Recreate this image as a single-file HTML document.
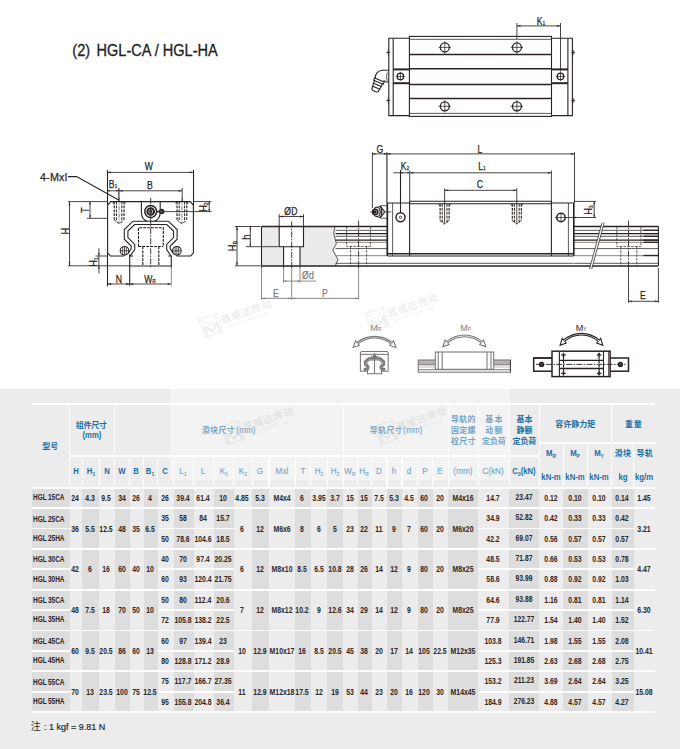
<!DOCTYPE html>
<html lang="zh"><head><meta charset="utf-8"><title>HGL-CA / HGL-HA</title>
<style>
html,body{margin:0;padding:0}
body{width:680px;height:749px;position:relative;overflow:hidden;background:#fff;font-family:"Liberation Sans",sans-serif}
.b{position:absolute}
svg{position:absolute;left:0;top:0}
.t{position:absolute;white-space:nowrap;font-weight:bold;font-size:8.4px;line-height:10px;color:#2e2725;transform:translate(-50%,-50%) scaleX(.82)}
.t.l{transform:translate(0,-50%) scaleX(.775);transform-origin:0 50%}
.t.l i{display:inline-block;width:1.6px}
.t.s{font-size:8.2px;transform:translate(-50%,-50%) scaleX(.82)}
.t.h{color:#1b6ea7;font-size:8.6px;transform:translate(-50%,-50%) scaleX(.9)}
.t.hl{font-weight:normal;font-size:9px;-webkit-text-stroke:.15px #1b6ea7;letter-spacing:.1px}
.t sub{font-size:5.4px;vertical-align:-1.6px;line-height:0}
.zh{position:absolute;white-space:nowrap;color:transparent;line-height:1;}
.note{position:absolute;white-space:pre;font-size:9px;line-height:10px;color:#2a2a2a;-webkit-text-stroke:.2px #2a2a2a;transform:translate(0,-50%)}
.lb{position:absolute;white-space:nowrap;line-height:1;color:#2b2523;letter-spacing:.2px;-webkit-text-stroke:.25px #2b2523}
.lb sub{font-size:.5em;vertical-align:-.12em;line-height:0}
.lb.gr{color:#2b2523;-webkit-text-stroke:0;letter-spacing:0}
.lb.gr sub{font-size:.55em;vertical-align:-.12em}
.lb.ttl{color:#222;letter-spacing:0;-webkit-text-stroke:.3px #222}
.ov{position:absolute;left:170px;top:268px;width:340px;height:212px;background:rgba(255,255,255,.38)}
.m,.n,.ng,.k,.kk,.c13,.d,.d2,.dg,.c,.c2,.g,.gk,.g2{fill:none;stroke:#2a2321}
svg .m{stroke-width:1.1}
svg .n{stroke-width:.75}
svg .ng{stroke-width:1;stroke:#8a8583}
svg .k{stroke-width:1.5}
svg .c13{stroke-width:1.3}
svg .kk{stroke-width:2}
svg .th{fill:none;stroke:#2a2321;stroke-width:.85}
svg .a{fill:#2f2826;stroke:none}
svg .d{stroke:#1c1614;stroke-width:1.1;stroke-dasharray:2.8 1.1}
svg .d2{stroke:#1c1614;stroke-width:.95;stroke-dasharray:2.8 1.1}
svg .dg{stroke:#3a3432;stroke-width:.8;stroke-dasharray:2.6 1.2}
svg .c{stroke-width:.9;stroke-dasharray:6 1.3 1.5 1.3}
svg .c2{stroke-width:.6;stroke-dasharray:4 1.2 1.2 1.2}
svg .g{stroke:#2a2321;stroke-width:1.05}
svg .gk{stroke:#2f2826;stroke-width:2.2}
svg .g2{stroke:#2f2826;stroke-width:.5}
svg .gf{fill:#2f2826;stroke:none}
svg .cj{font-family:"Liberation Sans","Noto Sans CJK SC",sans-serif;font-weight:bold;font-size:8px;fill:#1b6ea7}
svg .wm{font-family:"Liberation Sans","Noto Sans CJK SC",sans-serif;font-weight:bold;font-size:10px;fill:#a8a8a8}
</style></head><body>
<div class="b" style="left:0px;top:389px;width:680px;height:360px;background:#ececec"></div>
<div class="b" style="left:32px;top:487.7px;width:37.5px;height:224.51px;background:#dcdddc"></div>
<div class="b" style="left:82.4px;top:487.7px;width:16.8px;height:224.51px;background:#dcdddc"></div>
<div class="b" style="left:114.6px;top:487.7px;width:15px;height:224.51px;background:#dcdddc"></div>
<div class="b" style="left:143.8px;top:487.7px;width:13.8px;height:224.51px;background:#dcdddc"></div>
<div class="b" style="left:173.8px;top:487.7px;width:19.8px;height:224.51px;background:#dcdddc"></div>
<div class="b" style="left:213.8px;top:487.7px;width:20px;height:224.51px;background:#dcdddc"></div>
<div class="b" style="left:252.1px;top:487.7px;width:16.9px;height:224.51px;background:#dcdddc"></div>
<div class="b" style="left:295.2px;top:487.7px;width:15.6px;height:224.51px;background:#dcdddc"></div>
<div class="b" style="left:327.4px;top:487.7px;width:15.9px;height:224.51px;background:#dcdddc"></div>
<div class="b" style="left:357.5px;top:487.7px;width:14px;height:224.51px;background:#dcdddc"></div>
<div class="b" style="left:387px;top:487.7px;width:15px;height:224.51px;background:#dcdddc"></div>
<div class="b" style="left:417.5px;top:487.7px;width:15px;height:224.51px;background:#dcdddc"></div>
<div class="b" style="left:448.4px;top:487.7px;width:29.8px;height:224.51px;background:#dcdddc"></div>
<div class="b" style="left:509.3px;top:487.7px;width:29.8px;height:224.51px;background:#dcdddc"></div>
<div class="b" style="left:563.3px;top:487.7px;width:24.4px;height:224.51px;background:#dcdddc"></div>
<div class="b" style="left:611.8px;top:487.7px;width:22.1px;height:224.51px;background:#dcdddc"></div>
<div class="b" style="left:32px;top:403.1px;width:623px;height:1.6px;background:#fdfdfd"></div>
<div class="b" style="left:69.5px;top:455.2px;width:469.6px;height:1.4px;background:#fdfdfd"></div>
<div class="b" style="left:539.1px;top:442.3px;width:115.9px;height:1.4px;background:#fdfdfd"></div>
<div class="b" style="left:32px;top:486.8px;width:623px;height:1.8px;background:#fdfdfd"></div>
<div class="b" style="left:68.97px;top:403.9px;width:1.05px;height:83.8px;background:#fdfdfd"></div>
<div class="b" style="left:114.07px;top:403.9px;width:1.05px;height:83.8px;background:#fdfdfd"></div>
<div class="b" style="left:342.78px;top:403.9px;width:1.05px;height:83.8px;background:#fdfdfd"></div>
<div class="b" style="left:447.88px;top:403.9px;width:1.05px;height:83.8px;background:#fdfdfd"></div>
<div class="b" style="left:477.68px;top:403.9px;width:1.05px;height:83.8px;background:#fdfdfd"></div>
<div class="b" style="left:508.78px;top:403.9px;width:1.05px;height:83.8px;background:#fdfdfd"></div>
<div class="b" style="left:538.58px;top:403.9px;width:1.05px;height:83.8px;background:#fdfdfd"></div>
<div class="b" style="left:611.27px;top:403.9px;width:1.05px;height:83.8px;background:#fdfdfd"></div>
<div class="b" style="left:81.88px;top:455.9px;width:1.05px;height:31.8px;background:#fdfdfd"></div>
<div class="b" style="left:98.67px;top:455.9px;width:1.05px;height:31.8px;background:#fdfdfd"></div>
<div class="b" style="left:129.07px;top:455.9px;width:1.05px;height:31.8px;background:#fdfdfd"></div>
<div class="b" style="left:143.28px;top:455.9px;width:1.05px;height:31.8px;background:#fdfdfd"></div>
<div class="b" style="left:157.07px;top:455.9px;width:1.05px;height:31.8px;background:#fdfdfd"></div>
<div class="b" style="left:173.28px;top:455.9px;width:1.05px;height:31.8px;background:#fdfdfd"></div>
<div class="b" style="left:193.07px;top:455.9px;width:1.05px;height:31.8px;background:#fdfdfd"></div>
<div class="b" style="left:213.28px;top:455.9px;width:1.05px;height:31.8px;background:#fdfdfd"></div>
<div class="b" style="left:233.28px;top:455.9px;width:1.05px;height:31.8px;background:#fdfdfd"></div>
<div class="b" style="left:251.57px;top:455.9px;width:1.05px;height:31.8px;background:#fdfdfd"></div>
<div class="b" style="left:268.48px;top:455.9px;width:1.05px;height:31.8px;background:#fdfdfd"></div>
<div class="b" style="left:294.68px;top:455.9px;width:1.05px;height:31.8px;background:#fdfdfd"></div>
<div class="b" style="left:310.28px;top:455.9px;width:1.05px;height:31.8px;background:#fdfdfd"></div>
<div class="b" style="left:326.88px;top:455.9px;width:1.05px;height:31.8px;background:#fdfdfd"></div>
<div class="b" style="left:356.98px;top:455.9px;width:1.05px;height:31.8px;background:#fdfdfd"></div>
<div class="b" style="left:370.98px;top:455.9px;width:1.05px;height:31.8px;background:#fdfdfd"></div>
<div class="b" style="left:386.48px;top:455.9px;width:1.05px;height:31.8px;background:#fdfdfd"></div>
<div class="b" style="left:401.48px;top:455.9px;width:1.05px;height:31.8px;background:#fdfdfd"></div>
<div class="b" style="left:416.98px;top:455.9px;width:1.05px;height:31.8px;background:#fdfdfd"></div>
<div class="b" style="left:431.98px;top:455.9px;width:1.05px;height:31.8px;background:#fdfdfd"></div>
<div class="b" style="left:562.77px;top:443px;width:1.05px;height:44.7px;background:#fdfdfd"></div>
<div class="b" style="left:587.18px;top:443px;width:1.05px;height:44.7px;background:#fdfdfd"></div>
<div class="b" style="left:633.38px;top:443px;width:1.05px;height:44.7px;background:#fdfdfd"></div>
<div class="b" style="left:32px;top:507.21px;width:623px;height:1.8px;background:#fdfdfd"></div>
<div class="b" style="left:32px;top:548.03px;width:623px;height:1.8px;background:#fdfdfd"></div>
<div class="b" style="left:32px;top:527.62px;width:37.5px;height:1.8px;background:#fdfdfd"></div>
<div class="b" style="left:157.6px;top:527.62px;width:76.2px;height:1.8px;background:#fdfdfd"></div>
<div class="b" style="left:478.2px;top:527.62px;width:155.7px;height:1.8px;background:#fdfdfd"></div>
<div class="b" style="left:32px;top:588.85px;width:623px;height:1.8px;background:#fdfdfd"></div>
<div class="b" style="left:32px;top:568.44px;width:37.5px;height:1.8px;background:#fdfdfd"></div>
<div class="b" style="left:157.6px;top:568.44px;width:76.2px;height:1.8px;background:#fdfdfd"></div>
<div class="b" style="left:478.2px;top:568.44px;width:155.7px;height:1.8px;background:#fdfdfd"></div>
<div class="b" style="left:32px;top:629.67px;width:623px;height:1.8px;background:#fdfdfd"></div>
<div class="b" style="left:32px;top:609.26px;width:37.5px;height:1.8px;background:#fdfdfd"></div>
<div class="b" style="left:157.6px;top:609.26px;width:76.2px;height:1.8px;background:#fdfdfd"></div>
<div class="b" style="left:478.2px;top:609.26px;width:155.7px;height:1.8px;background:#fdfdfd"></div>
<div class="b" style="left:32px;top:670.49px;width:623px;height:1.8px;background:#fdfdfd"></div>
<div class="b" style="left:32px;top:650.08px;width:37.5px;height:1.8px;background:#fdfdfd"></div>
<div class="b" style="left:157.6px;top:650.08px;width:76.2px;height:1.8px;background:#fdfdfd"></div>
<div class="b" style="left:478.2px;top:650.08px;width:155.7px;height:1.8px;background:#fdfdfd"></div>
<div class="b" style="left:32px;top:711.31px;width:623px;height:1.8px;background:#fdfdfd"></div>
<div class="b" style="left:32px;top:690.9px;width:37.5px;height:1.8px;background:#fdfdfd"></div>
<div class="b" style="left:157.6px;top:690.9px;width:76.2px;height:1.8px;background:#fdfdfd"></div>
<div class="b" style="left:478.2px;top:690.9px;width:155.7px;height:1.8px;background:#fdfdfd"></div>
<span class="t h" style="left:75.65px;top:470.8px;">H</span>
<span class="t h" style="left:90.5px;top:470.8px;">H<sub>1</sub></span>
<span class="t h" style="left:106.6px;top:470.8px;">N</span>
<span class="t h" style="left:121.8px;top:470.8px;">W</span>
<span class="t h" style="left:136.4px;top:470.8px;">B</span>
<span class="t h" style="left:150.4px;top:470.8px;">B<sub>1</sub></span>
<span class="t h" style="left:165.4px;top:470.8px;">C</span>
<span class="t h hl" style="left:183.4px;top:470.8px;">L<sub>1</sub></span>
<span class="t h hl" style="left:203.4px;top:470.8px;">L</span>
<span class="t h hl" style="left:223.5px;top:470.8px;">K<sub>1</sub></span>
<span class="t h hl" style="left:242.65px;top:470.8px;">K<sub>2</sub></span>
<span class="t h hl" style="left:260.25px;top:470.8px;">G</span>
<span class="t h hl" style="left:281.8px;top:470.8px;">Mxl</span>
<span class="t h hl" style="left:302.7px;top:470.8px;">T</span>
<span class="t h hl" style="left:318.8px;top:470.8px;">H<sub>2</sub></span>
<span class="t h hl" style="left:335.05px;top:470.8px;">H<sub>3</sub></span>
<span class="t h hl" style="left:350.1px;top:470.8px;">W<sub>R</sub></span>
<span class="t h hl" style="left:364.2px;top:470.8px;">H<sub>R</sub></span>
<span class="t h hl" style="left:378.95px;top:470.8px;">D</span>
<span class="t h hl" style="left:394.2px;top:470.8px;">h</span>
<span class="t h hl" style="left:409.45px;top:470.8px;">d</span>
<span class="t h hl" style="left:424.7px;top:470.8px;">P</span>
<span class="t h hl" style="left:440.15px;top:470.8px;">E</span>
<span class="t h hl" style="left:463px;top:470.8px;">(mm)</span>
<span class="t h hl" style="left:493.45px;top:470.8px;">C(kN)</span>
<span class="t h" style="left:523.9px;top:470.8px;">C<sub>0</sub>(kN)</span>
<span class="t h" style="left:91.7px;top:435.3px;">(mm)</span>
<span class="t h" style="left:550.9px;top:453.3px;">M<sub>R</sub></span>
<span class="t h" style="left:550.9px;top:477.2px;">kN-m</span>
<span class="t h" style="left:575.2px;top:453.3px;">M<sub>P</sub></span>
<span class="t h" style="left:575.2px;top:477.2px;">kN-m</span>
<span class="t h" style="left:599.45px;top:453.3px;">M<sub>Y</sub></span>
<span class="t h" style="left:599.45px;top:477.2px;">kN-m</span>
<span class="t h" style="left:622.55px;top:477.2px;">kg</span>
<span class="t h" style="left:644.15px;top:477.2px;">kg/m</span>
<span class="t h hl" style="left:245.9px;top:430.3px;">(mm)</span>
<span class="t h hl" style="left:413.3px;top:430.3px;">(mm)</span>
<span class="t l d" style="left:32.8px;top:497px;">HGL<i></i>15CA</span>
<span class="t d" style="left:75.35px;top:497.7px;">24</span>
<span class="t d" style="left:90.2px;top:497.7px;">4.3</span>
<span class="t d" style="left:106.3px;top:497.7px;">9.5</span>
<span class="t d" style="left:121.5px;top:497.7px;">34</span>
<span class="t d" style="left:136.1px;top:497.7px;">26</span>
<span class="t d" style="left:150.1px;top:497.7px;">4</span>
<span class="t d" style="left:165.1px;top:497.7px;">26</span>
<span class="t d" style="left:183.1px;top:497.7px;">39.4</span>
<span class="t d" style="left:203.1px;top:497.7px;">61.4</span>
<span class="t d" style="left:223.2px;top:497.7px;">10</span>
<span class="t d" style="left:493.15px;top:497.7px;">14.7</span>
<span class="t d s" style="left:523.6px;top:497.7px;">23.47</span>
<span class="t d" style="left:550.6px;top:497.7px;">0.12</span>
<span class="t d" style="left:574.9px;top:497.7px;">0.10</span>
<span class="t d" style="left:599.15px;top:497.7px;">0.10</span>
<span class="t d" style="left:622.25px;top:497.7px;">0.14</span>
<span class="t d" style="left:242.35px;top:497.7px;">4.85</span>
<span class="t d" style="left:259.95px;top:497.7px;">5.3</span>
<span class="t d" style="left:281.5px;top:497.7px;">M4x4</span>
<span class="t d" style="left:302.4px;top:497.7px;">6</span>
<span class="t d" style="left:318.5px;top:497.7px;">3.95</span>
<span class="t d" style="left:334.75px;top:497.7px;">3.7</span>
<span class="t d" style="left:349.8px;top:497.7px;">15</span>
<span class="t d" style="left:363.9px;top:497.7px;">15</span>
<span class="t d" style="left:378.65px;top:497.7px;">7.5</span>
<span class="t d" style="left:393.9px;top:497.7px;">5.3</span>
<span class="t d" style="left:409.15px;top:497.7px;">4.5</span>
<span class="t d" style="left:424.4px;top:497.7px;">60</span>
<span class="t d" style="left:439.85px;top:497.7px;">20</span>
<span class="t d" style="left:462.7px;top:497.7px;">M4x16</span>
<span class="t d" style="left:643.85px;top:497.7px;">1.45</span>
<span class="t l d" style="left:32.8px;top:518.52px;">HGL<i></i>25CA</span>
<span class="t l d" style="left:32.8px;top:537.82px;">HGL<i></i>25HA</span>
<span class="t d" style="left:75.35px;top:529.42px;">36</span>
<span class="t d" style="left:90.2px;top:529.42px;">5.5</span>
<span class="t d" style="left:106.3px;top:529.42px;">12.5</span>
<span class="t d" style="left:121.5px;top:529.42px;">48</span>
<span class="t d" style="left:136.1px;top:529.42px;">35</span>
<span class="t d" style="left:150.1px;top:529.42px;">6.5</span>
<span class="t d" style="left:165.1px;top:518.12px;">35</span>
<span class="t d" style="left:183.1px;top:518.12px;">58</span>
<span class="t d" style="left:203.1px;top:518.12px;">84</span>
<span class="t d" style="left:223.2px;top:518.12px;">15.7</span>
<span class="t d" style="left:493.15px;top:518.12px;">34.9</span>
<span class="t d s" style="left:523.6px;top:518.12px;">52.82</span>
<span class="t d" style="left:550.6px;top:518.12px;">0.42</span>
<span class="t d" style="left:574.9px;top:518.12px;">0.33</span>
<span class="t d" style="left:599.15px;top:518.12px;">0.33</span>
<span class="t d" style="left:622.25px;top:518.12px;">0.42</span>
<span class="t d" style="left:165.1px;top:538.52px;">50</span>
<span class="t d" style="left:183.1px;top:538.52px;">78.6</span>
<span class="t d" style="left:203.1px;top:538.52px;">104.6</span>
<span class="t d" style="left:223.2px;top:538.52px;">18.5</span>
<span class="t d" style="left:493.15px;top:538.52px;">42.2</span>
<span class="t d s" style="left:523.6px;top:538.52px;">69.07</span>
<span class="t d" style="left:550.6px;top:538.52px;">0.56</span>
<span class="t d" style="left:574.9px;top:538.52px;">0.57</span>
<span class="t d" style="left:599.15px;top:538.52px;">0.57</span>
<span class="t d" style="left:622.25px;top:538.52px;">0.57</span>
<span class="t d" style="left:242.35px;top:529.42px;">6</span>
<span class="t d" style="left:259.95px;top:529.42px;">12</span>
<span class="t d" style="left:281.5px;top:529.42px;">M6x6</span>
<span class="t d" style="left:302.4px;top:529.42px;">8</span>
<span class="t d" style="left:318.5px;top:529.42px;">6</span>
<span class="t d" style="left:334.75px;top:529.42px;">5</span>
<span class="t d" style="left:349.8px;top:529.42px;">23</span>
<span class="t d" style="left:363.9px;top:529.42px;">22</span>
<span class="t d" style="left:378.65px;top:529.42px;">11</span>
<span class="t d" style="left:393.9px;top:529.42px;">9</span>
<span class="t d" style="left:409.15px;top:529.42px;">7</span>
<span class="t d" style="left:424.4px;top:529.42px;">60</span>
<span class="t d" style="left:439.85px;top:529.42px;">20</span>
<span class="t d" style="left:462.7px;top:529.42px;">M6x20</span>
<span class="t d" style="left:643.85px;top:529.42px;">3.21</span>
<span class="t l d" style="left:32.8px;top:559.34px;">HGL<i></i>30CA</span>
<span class="t l d" style="left:32.8px;top:578.65px;">HGL<i></i>30HA</span>
<span class="t d" style="left:75.35px;top:569.14px;">42</span>
<span class="t d" style="left:90.2px;top:569.14px;">6</span>
<span class="t d" style="left:106.3px;top:569.14px;">16</span>
<span class="t d" style="left:121.5px;top:569.14px;">60</span>
<span class="t d" style="left:136.1px;top:569.14px;">40</span>
<span class="t d" style="left:150.1px;top:569.14px;">10</span>
<span class="t d" style="left:165.1px;top:558.93px;">40</span>
<span class="t d" style="left:183.1px;top:558.93px;">70</span>
<span class="t d" style="left:203.1px;top:558.93px;">97.4</span>
<span class="t d" style="left:223.2px;top:558.93px;">20.25</span>
<span class="t d" style="left:493.15px;top:558.93px;">48.5</span>
<span class="t d s" style="left:523.6px;top:558.93px;">71.87</span>
<span class="t d" style="left:550.6px;top:558.93px;">0.66</span>
<span class="t d" style="left:574.9px;top:558.93px;">0.53</span>
<span class="t d" style="left:599.15px;top:558.93px;">0.53</span>
<span class="t d" style="left:622.25px;top:558.93px;">0.78</span>
<span class="t d" style="left:165.1px;top:579.35px;">60</span>
<span class="t d" style="left:183.1px;top:579.35px;">93</span>
<span class="t d" style="left:203.1px;top:579.35px;">120.4</span>
<span class="t d" style="left:223.2px;top:579.35px;">21.75</span>
<span class="t d" style="left:493.15px;top:579.35px;">58.6</span>
<span class="t d s" style="left:523.6px;top:579.35px;">93.99</span>
<span class="t d" style="left:550.6px;top:579.35px;">0.88</span>
<span class="t d" style="left:574.9px;top:579.35px;">0.92</span>
<span class="t d" style="left:599.15px;top:579.35px;">0.92</span>
<span class="t d" style="left:622.25px;top:579.35px;">1.03</span>
<span class="t d" style="left:242.35px;top:569.14px;">6</span>
<span class="t d" style="left:259.95px;top:569.14px;">12</span>
<span class="t d" style="left:281.5px;top:569.14px;">M8x10</span>
<span class="t d" style="left:302.4px;top:569.14px;">8.5</span>
<span class="t d" style="left:318.5px;top:569.14px;">6.5</span>
<span class="t d" style="left:334.75px;top:569.14px;">10.8</span>
<span class="t d" style="left:349.8px;top:569.14px;">28</span>
<span class="t d" style="left:363.9px;top:569.14px;">26</span>
<span class="t d" style="left:378.65px;top:569.14px;">14</span>
<span class="t d" style="left:393.9px;top:569.14px;">12</span>
<span class="t d" style="left:409.15px;top:569.14px;">9</span>
<span class="t d" style="left:424.4px;top:569.14px;">80</span>
<span class="t d" style="left:439.85px;top:569.14px;">20</span>
<span class="t d" style="left:462.7px;top:569.14px;">M8x25</span>
<span class="t d" style="left:643.85px;top:569.14px;">4.47</span>
<span class="t l d" style="left:32.8px;top:600.15px;">HGL<i></i>35CA</span>
<span class="t l d" style="left:32.8px;top:619.47px;">HGL<i></i>35HA</span>
<span class="t d" style="left:75.35px;top:609.96px;">48</span>
<span class="t d" style="left:90.2px;top:609.96px;">7.5</span>
<span class="t d" style="left:106.3px;top:609.96px;">18</span>
<span class="t d" style="left:121.5px;top:609.96px;">70</span>
<span class="t d" style="left:136.1px;top:609.96px;">50</span>
<span class="t d" style="left:150.1px;top:609.96px;">10</span>
<span class="t d" style="left:165.1px;top:599.75px;">50</span>
<span class="t d" style="left:183.1px;top:599.75px;">80</span>
<span class="t d" style="left:203.1px;top:599.75px;">112.4</span>
<span class="t d" style="left:223.2px;top:599.75px;">20.6</span>
<span class="t d" style="left:493.15px;top:599.75px;">64.6</span>
<span class="t d s" style="left:523.6px;top:599.75px;">93.88</span>
<span class="t d" style="left:550.6px;top:599.75px;">1.16</span>
<span class="t d" style="left:574.9px;top:599.75px;">0.81</span>
<span class="t d" style="left:599.15px;top:599.75px;">0.81</span>
<span class="t d" style="left:622.25px;top:599.75px;">1.14</span>
<span class="t d" style="left:165.1px;top:620.16px;">72</span>
<span class="t d" style="left:183.1px;top:620.16px;">105.8</span>
<span class="t d" style="left:203.1px;top:620.16px;">138.2</span>
<span class="t d" style="left:223.2px;top:620.16px;">22.5</span>
<span class="t d" style="left:493.15px;top:620.16px;">77.9</span>
<span class="t d s" style="left:523.6px;top:620.16px;">122.77</span>
<span class="t d" style="left:550.6px;top:620.16px;">1.54</span>
<span class="t d" style="left:574.9px;top:620.16px;">1.40</span>
<span class="t d" style="left:599.15px;top:620.16px;">1.40</span>
<span class="t d" style="left:622.25px;top:620.16px;">1.52</span>
<span class="t d" style="left:242.35px;top:609.96px;">7</span>
<span class="t d" style="left:259.95px;top:609.96px;">12</span>
<span class="t d" style="left:281.5px;top:609.96px;">M8x12</span>
<span class="t d" style="left:302.4px;top:609.96px;">10.2</span>
<span class="t d" style="left:318.5px;top:609.96px;">9</span>
<span class="t d" style="left:334.75px;top:609.96px;">12.6</span>
<span class="t d" style="left:349.8px;top:609.96px;">34</span>
<span class="t d" style="left:363.9px;top:609.96px;">29</span>
<span class="t d" style="left:378.65px;top:609.96px;">14</span>
<span class="t d" style="left:393.9px;top:609.96px;">12</span>
<span class="t d" style="left:409.15px;top:609.96px;">9</span>
<span class="t d" style="left:424.4px;top:609.96px;">80</span>
<span class="t d" style="left:439.85px;top:609.96px;">20</span>
<span class="t d" style="left:462.7px;top:609.96px;">M8x25</span>
<span class="t d" style="left:643.85px;top:609.96px;">6.30</span>
<span class="t l d" style="left:32.8px;top:640.98px;">HGL<i></i>45CA</span>
<span class="t l d" style="left:32.8px;top:660.28px;">HGL<i></i>45HA</span>
<span class="t d" style="left:75.35px;top:650.78px;">60</span>
<span class="t d" style="left:90.2px;top:650.78px;">9.5</span>
<span class="t d" style="left:106.3px;top:650.78px;">20.5</span>
<span class="t d" style="left:121.5px;top:650.78px;">86</span>
<span class="t d" style="left:136.1px;top:650.78px;">60</span>
<span class="t d" style="left:150.1px;top:650.78px;">13</span>
<span class="t d" style="left:165.1px;top:640.57px;">60</span>
<span class="t d" style="left:183.1px;top:640.57px;">97</span>
<span class="t d" style="left:203.1px;top:640.57px;">139.4</span>
<span class="t d" style="left:223.2px;top:640.57px;">23</span>
<span class="t d" style="left:493.15px;top:640.57px;">103.8</span>
<span class="t d s" style="left:523.6px;top:640.57px;">146.71</span>
<span class="t d" style="left:550.6px;top:640.57px;">1.98</span>
<span class="t d" style="left:574.9px;top:640.57px;">1.55</span>
<span class="t d" style="left:599.15px;top:640.57px;">1.55</span>
<span class="t d" style="left:622.25px;top:640.57px;">2.08</span>
<span class="t d" style="left:165.1px;top:660.98px;">80</span>
<span class="t d" style="left:183.1px;top:660.98px;">128.8</span>
<span class="t d" style="left:203.1px;top:660.98px;">171.2</span>
<span class="t d" style="left:223.2px;top:660.98px;">28.9</span>
<span class="t d" style="left:493.15px;top:660.98px;">125.3</span>
<span class="t d s" style="left:523.6px;top:660.98px;">191.85</span>
<span class="t d" style="left:550.6px;top:660.98px;">2.63</span>
<span class="t d" style="left:574.9px;top:660.98px;">2.68</span>
<span class="t d" style="left:599.15px;top:660.98px;">2.68</span>
<span class="t d" style="left:622.25px;top:660.98px;">2.75</span>
<span class="t d" style="left:242.35px;top:650.78px;">10</span>
<span class="t d" style="left:259.95px;top:650.78px;">12.9</span>
<span class="t d" style="left:281.5px;top:650.78px;">M10x17</span>
<span class="t d" style="left:302.4px;top:650.78px;">16</span>
<span class="t d" style="left:318.5px;top:650.78px;">8.5</span>
<span class="t d" style="left:334.75px;top:650.78px;">20.5</span>
<span class="t d" style="left:349.8px;top:650.78px;">45</span>
<span class="t d" style="left:363.9px;top:650.78px;">38</span>
<span class="t d" style="left:378.65px;top:650.78px;">20</span>
<span class="t d" style="left:393.9px;top:650.78px;">17</span>
<span class="t d" style="left:409.15px;top:650.78px;">14</span>
<span class="t d" style="left:424.4px;top:650.78px;">105</span>
<span class="t d" style="left:439.85px;top:650.78px;">22.5</span>
<span class="t d" style="left:462.7px;top:650.78px;">M12x35</span>
<span class="t d" style="left:643.85px;top:650.78px;">10.41</span>
<span class="t l d" style="left:32.8px;top:681.8px;">HGL<i></i>55CA</span>
<span class="t l d" style="left:32.8px;top:701.11px;">HGL<i></i>55HA</span>
<span class="t d" style="left:75.35px;top:691.6px;">70</span>
<span class="t d" style="left:90.2px;top:691.6px;">13</span>
<span class="t d" style="left:106.3px;top:691.6px;">23.5</span>
<span class="t d" style="left:121.5px;top:691.6px;">100</span>
<span class="t d" style="left:136.1px;top:691.6px;">75</span>
<span class="t d" style="left:150.1px;top:691.6px;">12.5</span>
<span class="t d" style="left:165.1px;top:681.39px;">75</span>
<span class="t d" style="left:183.1px;top:681.39px;">117.7</span>
<span class="t d" style="left:203.1px;top:681.39px;">166.7</span>
<span class="t d" style="left:223.2px;top:681.39px;">27.35</span>
<span class="t d" style="left:493.15px;top:681.39px;">153.2</span>
<span class="t d s" style="left:523.6px;top:681.39px;">211.23</span>
<span class="t d" style="left:550.6px;top:681.39px;">3.69</span>
<span class="t d" style="left:574.9px;top:681.39px;">2.64</span>
<span class="t d" style="left:599.15px;top:681.39px;">2.64</span>
<span class="t d" style="left:622.25px;top:681.39px;">3.25</span>
<span class="t d" style="left:165.1px;top:701.8px;">95</span>
<span class="t d" style="left:183.1px;top:701.8px;">155.8</span>
<span class="t d" style="left:203.1px;top:701.8px;">204.8</span>
<span class="t d" style="left:223.2px;top:701.8px;">36.4</span>
<span class="t d" style="left:493.15px;top:701.8px;">184.9</span>
<span class="t d s" style="left:523.6px;top:701.8px;">276.23</span>
<span class="t d" style="left:550.6px;top:701.8px;">4.88</span>
<span class="t d" style="left:574.9px;top:701.8px;">4.57</span>
<span class="t d" style="left:599.15px;top:701.8px;">4.57</span>
<span class="t d" style="left:622.25px;top:701.8px;">4.27</span>
<span class="t d" style="left:242.35px;top:691.6px;">11</span>
<span class="t d" style="left:259.95px;top:691.6px;">12.9</span>
<span class="t d" style="left:281.5px;top:691.6px;">M12x18</span>
<span class="t d" style="left:302.4px;top:691.6px;">17.5</span>
<span class="t d" style="left:318.5px;top:691.6px;">12</span>
<span class="t d" style="left:334.75px;top:691.6px;">19</span>
<span class="t d" style="left:349.8px;top:691.6px;">53</span>
<span class="t d" style="left:363.9px;top:691.6px;">44</span>
<span class="t d" style="left:378.65px;top:691.6px;">23</span>
<span class="t d" style="left:393.9px;top:691.6px;">20</span>
<span class="t d" style="left:409.15px;top:691.6px;">16</span>
<span class="t d" style="left:424.4px;top:691.6px;">120</span>
<span class="t d" style="left:439.85px;top:691.6px;">30</span>
<span class="t d" style="left:462.7px;top:691.6px;">M14x45</span>
<span class="t d" style="left:643.85px;top:691.6px;">15.08</span>
<span class="note" style="left:41.4px;top:726.8px"> : 1 kgf = 9.81 N</span>
<svg width="680" height="749" viewBox="0 0 680 749">
<g id="topview">
<path class="m" d="M409.4 38.2L388.8 38.2L388.8 115.6L409.4 115.6"/>
<path class="m" d="M393.2 38.2L393.2 115.6"/>
<path class="m" d="M551.5 38.2L572.4 38.2L572.4 115.6L551.5 115.6"/>
<path class="m" d="M567.9 38.2L567.9 115.6"/>
<rect class="m" x="409.4" y="36.4" width="142.1" height="80"/>
<path class="n" d="M409.4 39.3L551.5 39.3"/>
<path class="n" d="M409.4 113.4L551.5 113.4"/>
<path class="k" d="M409.4 54.6L551.5 54.6"/>
<path class="k" d="M409.4 68.8L551.5 68.8"/>
<path class="k" d="M409.4 84.6L551.5 84.6"/>
<path class="k" d="M409.4 98.5L551.5 98.5"/>
<path class="kk" d="M393.2 69.4L409.4 69.4"/>
<path class="kk" d="M393.2 83.2L409.4 83.2"/>
<path class="kk" d="M551.5 69.4L567.9 69.4"/>
<path class="kk" d="M551.5 83.2L567.9 83.2"/>
<circle class="c13" cx="444.8" cy="47.4" r="4.5"/><path class="n" d="M438.6 47.4L451 47.4"/><path class="n" d="M444.8 41.2L444.8 53.6"/>
<circle class="c13" cx="444.8" cy="106.3" r="4.5"/><path class="n" d="M438.6 106.3L451 106.3"/><path class="n" d="M444.8 100.1L444.8 112.5"/>
<circle class="c13" cx="516.9" cy="47.4" r="4.5"/><path class="n" d="M510.7 47.4L523.1 47.4"/><path class="n" d="M516.9 41.2L516.9 53.6"/>
<circle class="c13" cx="516.9" cy="106.3" r="4.5"/><path class="n" d="M510.7 106.3L523.1 106.3"/><path class="n" d="M516.9 100.1L516.9 112.5"/>
<circle class="c13" cx="400.4" cy="76.4" r="3.2"/><path class="n" d="M395.8 76.4L405 76.4"/><path class="n" d="M400.4 71.8L400.4 81"/>
<circle class="c13" cx="560.5" cy="76.4" r="3.2"/><path class="n" d="M555.9 76.4L565.1 76.4"/><path class="n" d="M560.5 71.8L560.5 81"/>
<path class="n" d="M386.3 52.4L390.3 52.4"/>
<path class="n" d="M388.6 49.2 Q387 52.4 388.6 55.6"/>
<path class="n" d="M572.4 49.2 Q575.6 52.4 572.4 55.6"/>
<path class="n" d="M571 52.4L575 52.4"/>
<path class="n" d="M386.3 100.4L390.3 100.4"/>
<path class="n" d="M388.6 97.2 Q387 100.4 388.6 103.6"/>
<path class="n" d="M572.4 97.2 Q575.6 100.4 572.4 103.6"/>
<path class="n" d="M571 100.4L575 100.4"/>
<path class="m" d="M388.8 70.3L383 70.3Q375.3 70.6 375 78.8"/>
<path class="m" d="M388.8 82L386.2 82L383.6 80.6"/>
<path class="n" d="M387.3 72.5Q385.6 76.5 387.3 81"/>
<path class="m" d="M384.19 82.03L374.61 77.97L373.68 80.18L383.25 84.24Z"/>
<path class="m" d="M382.33 83.85L381.23 86.43L373.5 83.15L374.6 80.57"/>
<path class="m" d="M381.23 86.43L379.75 89.16L372.57 86.12L373.5 83.15"/>
<path class="m" d="M379.75 89.16L377.98 91.78L376.47 92.01L372.79 90.45L371.91 89.2L372.57 86.12"/>
<path class="th" d="M516.9 23L516.9 39"/>
<path class="th" d="M560.5 23L560.5 71.5"/>
<path class="th" d="M516.9 25.9L560.5 25.9"/><path class="a" d="M516.9 25.9L520.5 25L520.5 26.8Z"/><path class="a" d="M560.5 25.9L556.9 26.8L556.9 25Z"/>
</g>
<g id="xsec">
<path class="m" d="M107.6 205.4L110.6 201.6L190.4 201.6L193.4 205.4L193.4 252.8L190.6 256L176.5 256"/>
<path class="m" d="M124.3 256L110.4 256L107.6 252.8L107.6 205.4"/>
<path class="m" d="M129.6 256L129.6 254.4"/>
<path class="m" d="M128.2 253.5L131.2 248.6L131.2 246L124.3 239.2L124.3 229.6L133 221.2L168.4 221.2L177.1 229.6L177.1 239.2L170.2 246L170.2 248.6L173.2 253.5"/>
<path class="m" d="M129.7 266L129.7 256.5L134.7 249.6L134.7 244.4L127.9 237.6L127.9 231L134.6 224.5L166.8 224.5L173.5 231L173.5 237.6L166.7 244.4L166.7 249.6L171.3 256.5L171.3 266Z"/>
<path class="m" d="M129.7 256L133 256"/>
<path class="m" d="M168.4 256L171.3 256"/>
<circle class="m" cx="124.5" cy="250.8" r="4.3" fill="#fff"/>
<path class="n" d="M120.2 250.8L128.8 250.8"/>
<path class="n" d="M124.5 246.5L124.5 255.1"/>
<path class="n" d="M122.7 247L122.7 254.6"/>
<path class="n" d="M126.3 247L126.3 254.6"/>
<circle class="m" cx="176.9" cy="250.8" r="4.3" fill="#fff"/>
<path class="n" d="M172.6 250.8L181.2 250.8"/>
<path class="n" d="M176.9 246.5L176.9 255.1"/>
<path class="n" d="M175.1 247L175.1 254.6"/>
<path class="n" d="M178.7 247L178.7 254.6"/>
<path class="m" d="M141.4 201.6L141.4 212.5Q141.6 219.5 147 221.2M160.2 201.6L160.2 212.5Q160 219.5 154.4 221.2"/>
<circle class="k" cx="150.7" cy="211.5" r="5.9"/>
<circle cx="150.7" cy="211.5" r="3.3" fill="#fff" stroke="#2a2321" stroke-width="2.1"/>
<circle class="m" cx="150.7" cy="211.5" r="1.1"/>
<circle cx="161.7" cy="211.6" r="2" fill="#5a5452" stroke="#2a2422" stroke-width="1.5"/>
<path class="k" d="M156.7 211.6L159.4 211.6"/>
<path class="d" d="M114.2 201.6L114.2 219.5"/>
<path class="d" d="M124 201.6L124 219.5"/>
<path class="d2" d="M116.4 201.6L116.4 221"/>
<path class="d2" d="M121.8 201.6L121.8 221"/>
<path class="d2" d="M114.2 219.5L116.4 222L119.1 223.4L121.8 222L124 219.5"/>
<path class="c2" d="M119.1 198.5L119.1 223.5"/>
<path class="n" d="M112.7 203.6L114.2 201.6"/>
<path class="n" d="M125.5 203.6L124 201.6"/>
<path class="d" d="M177 201.6L177 219.5"/>
<path class="d" d="M186.8 201.6L186.8 219.5"/>
<path class="d2" d="M179.2 201.6L179.2 221"/>
<path class="d2" d="M184.6 201.6L184.6 221"/>
<path class="d2" d="M177 219.5L179.2 222L181.9 223.4L184.6 222L186.8 219.5"/>
<path class="c2" d="M181.9 198.5L181.9 223.5"/>
<path class="n" d="M175.5 203.6L177 201.6"/>
<path class="n" d="M188.3 203.6L186.8 201.6"/>
<path class="d" d="M138.5 246.5L138.5 227.8L163.3 227.8L163.3 246.5"/>
<path class="d" d="M138.5 246.5L163.3 246.5"/>
<path class="d" d="M142.8 246.5L142.8 266"/>
<path class="d" d="M158.8 246.5L158.8 266"/>
<path class="c" d="M150.7 197.8L150.7 268"/>
<path class="th" d="M68 201.6L107.6 201.6"/>
<path class="th" d="M193.4 201.6L211.5 201.6"/>
<path class="m" d="M107.5 170L107.5 205.4"/>
<path class="m" d="M193.5 170L193.5 205.4"/>
<path class="th" d="M107.4 172.4L193.5 172.4"/><path class="a" d="M107.4 172.4L111 171.5L111 173.3Z"/><path class="a" d="M193.5 172.4L189.9 173.3L189.9 171.5Z"/>
<path class="m" d="M118.9 188L118.9 201"/>
<path class="th" d="M182.2 188L182.2 201"/>
<path class="th" d="M118.9 190.8L182.2 190.8"/><path class="a" d="M118.9 190.8L122.5 189.9L122.5 191.7Z"/><path class="a" d="M182.2 190.8L178.6 191.7L178.6 189.9Z"/>
<path class="th" d="M107.4 190.8L118.9 190.8"/><path class="a" d="M107.4 190.8L110 190L110 191.6Z"/><path class="a" d="M118.9 190.8L116.3 191.6L116.3 190Z"/>
<path class="m" d="M68 176.6L76.6 176.6L118.6 200"/>
<path class="th" d="M68 265.8L129.7 265.8"/>
<path class="th" d="M69.5 201.6L69.5 265.8"/><path class="a" d="M69.5 201.6L70.4 205.2L68.6 205.2Z"/><path class="a" d="M69.5 265.8L68.6 262.2L70.4 262.2Z"/>
<path class="th" d="M87 218.3L107.6 218.3"/>
<path class="th" d="M90 201.6L90 218.3"/><path class="a" d="M90 201.6L90.8 204.6L89.2 204.6Z"/><path class="a" d="M90 218.3L89.2 215.3L90.8 215.3Z"/>
<path class="th" d="M95.5 256L107.6 256"/>
<path class="th" d="M98.9 248.3L98.9 273.6"/>
<path class="a" d="M98.9 256L98.1 253L99.7 253Z"/>
<path class="a" d="M98.9 265.8L99.7 268.8L98.1 268.8Z"/>
<path class="th" d="M164 211.6L211.5 211.6"/>
<path class="th" d="M209.2 201.6L209.2 211.6"/><path class="a" d="M209.2 201.6L210 204.2L208.4 204.2Z"/><path class="a" d="M209.2 211.6L208.4 209L210 209Z"/>
<path class="m" d="M107.5 252.8L107.5 286.3"/>
<path class="m" d="M129.7 266L129.7 285.8"/>
<path class="th" d="M171.3 266L171.3 286.3"/>
<path class="th" d="M107.6 284L129.7 284"/><path class="a" d="M107.6 284L111.2 283.1L111.2 284.9Z"/><path class="a" d="M129.7 284L126.1 284.9L126.1 283.1Z"/>
<path class="th" d="M129.7 284L171.3 284"/><path class="a" d="M129.7 284L133.3 283.1L133.3 284.9Z"/><path class="a" d="M171.3 284L167.7 284.9L167.7 283.1Z"/>
</g>
<g id="side">
<path d="M261.5 226.5L334.8 226.5L333.8 234L336.4 243.5L332.8 250L337.9 259.5L335.4 265.8L261.5 265.8Z" fill="#ebebeb"/>
<rect x="279.2" y="226.5" width="24.3" height="20.2" fill="#fff"/>
<rect x="283.6" y="246.5" width="16.4" height="19.3" fill="#fff"/>
<path class="th" d="M235 226.5L260.6 226.5"/>
<path class="th" d="M235 265.8L260.6 265.8"/>
<path class="k" d="M261.5 226.5L387.6 226.5"/>
<path class="c13" d="M261.5 266L658.4 266"/>
<path class="m" d="M261.5 226.5L261.5 265.8"/>
<path class="m" d="M279.2 226.5L279.2 246.7L303.5 246.7L303.5 226.5"/>
<path class="m" d="M283.6 246.7L283.6 265.8"/>
<path class="m" d="M300 246.7L300 265.8"/>
<path class="n" d="M334.8 226.5L333.8 234L336.4 243.5L332.8 250L337.9 259.5L335.4 265.8"/>
<path class="n" d="M335.5 230.3L387.6 230.3"/>
<path class="m" d="M335.5 233.6L387.6 233.6"/>
<path class="n" d="M335.5 236.3L387.6 236.3"/>
<path class="m" d="M335.5 240.1L387.6 240.1"/>
<path class="ng" d="M335.5 242.3L387.6 242.3"/>
<path class="n" d="M335.5 248.6L387.6 248.6"/>
<path class="ng" d="M335.5 255.7L387.6 255.7"/>
<path class="n" d="M335.5 263.3L387.6 263.3"/>
<path class="n" d="M387.6 263.3L573.6 263.3"/>
<path class="k" d="M574 226.6L658.4 226.6"/>
<path class="n" d="M574 230.3L658.4 230.3"/>
<path class="m" d="M574 233.6L658.4 233.6"/>
<path class="n" d="M574 236.3L658.4 236.3"/>
<path class="m" d="M574 240.1L658.4 240.1"/>
<path class="ng" d="M574 242.3L658.4 242.3"/>
<path class="n" d="M574 248.6L658.4 248.6"/>
<path class="ng" d="M574 255.7L658.4 255.7"/>
<path class="n" d="M574 263.3L658.4 263.3"/>
<path class="m" d="M658.4 226.6L658.4 265.8"/>
<path class="c13" d="M643.5 230.3L658.4 230.3"/>
<path class="c13" d="M643.5 233.6L658.4 233.6"/>
<path class="c13" d="M643.5 236.3L658.4 236.3"/>
<path class="c13" d="M643.5 240.1L658.4 240.1"/>
<path class="c13" d="M643.5 242.3L658.4 242.3"/>
<path class="c13" d="M643.5 255.5L658.4 255.5"/>
<path d="M602 222.6L604.2 222.6L591.7 269.2L589.5 269.2Z" fill="#fff"/>
<path class="n" d="M602 222.6L589.5 269.2"/>
<path class="n" d="M604.2 222.6L591.7 269.2"/>
<path class="dg" d="M346.6 226.5L346.6 246.4L370.4 246.4L370.4 226.5"/>
<path class="dg" d="M350.6 246.4L350.6 265.8"/>
<path class="dg" d="M366.6 246.4L366.6 265.8"/>
<path class="c" d="M358.6 220.5L358.6 266.5"/>
<path class="th" d="M358.6 266.5L358.6 299.5"/>
<path class="dg" d="M616.8 226.7L616.8 246.6L640.9 246.6L640.9 226.7"/>
<path class="dg" d="M620.8 246.6L620.8 265.8"/>
<path class="dg" d="M636.8 246.6L636.8 265.8"/>
<path class="c" d="M628.5 220.6L628.5 266.5"/>
<path class="th" d="M628.5 266.5L628.5 302.8"/>
<rect x="387.6" y="201.4" width="186" height="54.6" fill="#fff" stroke="none"/>
<path class="m" d="M387.6 255.8L387.6 203L409.6 203L409.6 201.2L551.4 201.2L551.4 203L573.6 203L573.6 255.8"/>
<path class="k" d="M387.2 203L387.2 255.8"/>
<path class="k" d="M573.8 203L573.8 255.8"/>
<path class="m" d="M409.6 203.7L551.4 203.7"/>
<path class="k" d="M387.6 253.8L573.6 253.8"/>
<path class="m" d="M387.6 256L573.6 256"/>
<path class="n" d="M392.6 203L392.6 256"/>
<path class="m" d="M409.6 201.4L409.6 256"/>
<path class="m" d="M551.4 201.4L551.4 256"/>
<path class="n" d="M568.4 203L568.4 256"/>
<circle class="k" cx="400.5" cy="217.3" r="4.5"/>
<circle class="n" cx="400.5" cy="217.3" r="1.2"/>
<circle class="k" cx="561" cy="217.5" r="4.2"/>
<path class="n" d="M555 217.5L567 217.5"/>
<path class="n" d="M561 213.3L561 221.7"/>
<path class="d" d="M440.1 204L440.1 220.6"/>
<path class="d" d="M449.1 204L449.1 220.6"/>
<path class="d2" d="M442.2 204L442.2 222.2"/>
<path class="d2" d="M447 204L447 222.2"/>
<path class="d2" d="M440.1 220.6L444.6 224L449.1 220.6"/>
<path class="n" d="M438.2 203.8L440.1 206"/>
<path class="n" d="M451 203.8L449.1 206"/>
<path class="d" d="M512.3 204L512.3 220.6"/>
<path class="d" d="M521.3 204L521.3 220.6"/>
<path class="d2" d="M514.4 204L514.4 222.2"/>
<path class="d2" d="M519.2 204L519.2 222.2"/>
<path class="d2" d="M512.3 220.6L516.8 224L521.3 220.6"/>
<path class="n" d="M510.4 203.8L512.3 206"/>
<path class="n" d="M523.2 203.8L521.3 206"/>
<path class="n" d="M380.2 205.7L387 205.7"/>
<path class="n" d="M380.2 218.2L387 218.2"/>
<path class="m" d="M380.3 206.2L384.2 210.9L384.2 212.9L380.3 217.6"/>
<path class="c13" d="M378.6 206.3A3.3 5.6 0 0 1 378.6 217.5"/>
<ellipse class="c13" cx="376.9" cy="211.9" rx="3.3" ry="4.7"/>
<circle class="k" cx="375.2" cy="211.9" r="2.7"/>
<circle class="k" cx="375.2" cy="211.9" r="0.8"/>
<path class="n" d="M370.3 211.9L372.2 211.9"/>
<path class="n" d="M384.4 211.9L391.4 211.9"/>
<path class="th" d="M372.4 152.2L372.4 208"/>
<path class="m" d="M386.9 152.2L386.9 203"/>
<path class="th" d="M372.4 153.9L386.9 153.9"/><path class="a" d="M372.4 153.9L375.4 153.1L375.4 154.7Z"/><path class="a" d="M386.9 153.9L383.9 154.7L383.9 153.1Z"/>
<path class="th" d="M574.5 152.2L574.5 203"/>
<path class="th" d="M386.9 153.9L574.5 153.9"/><path class="a" d="M386.9 153.9L390.5 153L390.5 154.8Z"/><path class="a" d="M574.5 153.9L570.9 154.8L570.9 153Z"/>
<path class="m" d="M400.5 170L400.5 212.8"/>
<path class="th" d="M409.7 170.5L409.7 201.4"/>
<path class="th" d="M551.4 170.5L551.4 201.4"/>
<path class="th" d="M393.3 172.8L400.5 172.8"/>
<path class="th" d="M400.5 172.8L409.7 172.8"/><path class="a" d="M400.5 172.8L402.9 172.1L402.9 173.5Z"/><path class="a" d="M409.7 172.8L407.3 173.5L407.3 172.1Z"/>
<path class="th" d="M409.7 172.8L551.4 172.8"/><path class="a" d="M409.7 172.8L413.3 171.9L413.3 173.7Z"/><path class="a" d="M551.4 172.8L547.8 173.7L547.8 171.9Z"/>
<path class="th" d="M444.6 188.3L444.6 223.6"/>
<path class="th" d="M516.8 188.3L516.8 223.6"/>
<path class="th" d="M444.6 190.3L516.8 190.3"/><path class="a" d="M444.6 190.3L448.2 189.4L448.2 191.2Z"/><path class="a" d="M516.8 190.3L513.2 191.2L513.2 189.4Z"/>
<path class="th" d="M574 201.4L596 201.4"/>
<path class="th" d="M567 217.5L596 217.5"/>
<path class="th" d="M594.2 201.4L594.2 217.5"/><path class="a" d="M594.2 201.4L595 204.4L593.4 204.4Z"/><path class="a" d="M594.2 217.5L593.4 214.5L595 214.5Z"/>
<path class="a" d="M573.9 217.5L576.1 216.4L576.1 218.6Z"/>
<path class="th" d="M237 226.5L237 265.8"/><path class="a" d="M237 226.5L237.9 230.1L236.1 230.1Z"/><path class="a" d="M237 265.8L236.1 262.2L237.9 262.2Z"/>
<path class="th" d="M246 246.7L278.4 246.7"/>
<path class="th" d="M250.3 226.5L250.3 246.7"/><path class="a" d="M250.3 226.5L251.1 229.5L249.5 229.5Z"/><path class="a" d="M250.3 246.7L249.5 243.7L251.1 243.7Z"/>
<path class="th" d="M279.2 214.2L279.2 226.5"/>
<path class="th" d="M303.5 214.2L303.5 226.5"/>
<path class="th" d="M279.2 216.5L303.5 216.5"/><path class="a" d="M279.2 216.5L282.8 215.6L282.8 217.4Z"/><path class="a" d="M303.5 216.5L299.9 217.4L299.9 215.6Z"/>
<path class="c" d="M291.7 221.5L291.7 266.5"/>
<path class="th" d="M291.7 266.5L291.7 299.5"/>
<path class="th" d="M283.6 265.8L283.6 282.8"/>
<path class="th" d="M300 265.8L300 282.8"/>
<path class="th" d="M283.6 281.1L300 281.1"/><path class="a" d="M283.6 281.1L286.4 280.3L286.4 281.9Z"/><path class="a" d="M300 281.1L297.2 281.9L297.2 280.3Z"/>
<path class="th" d="M300 281.1L316 281.1"/>
<path class="th" d="M261.5 265.8L261.5 299.5"/>
<path class="th" d="M261.5 298.4L291.7 298.4"/><path class="a" d="M261.5 298.4L265.1 297.5L265.1 299.3Z"/><path class="a" d="M291.7 298.4L288.1 299.3L288.1 297.5Z"/>
<path class="th" d="M291.7 298.4L358.7 298.4"/><path class="a" d="M291.7 298.4L295.3 297.5L295.3 299.3Z"/><path class="a" d="M358.7 298.4L355.1 299.3L355.1 297.5Z"/>
<path class="th" d="M658.4 268L658.4 302.8"/>
<path class="th" d="M628.5 301.3L658.4 301.3"/><path class="a" d="M628.5 301.3L632.1 300.4L632.1 302.2Z"/><path class="a" d="M658.4 301.3L654.8 302.2L654.8 300.4Z"/>
</g>
<g id="mr">
<path class="g" d="M355.62 340.79L353.1 347.5L359.35 345.49L358.01 343.8A26.64 26.64 0 0 1 391.09 343.8L389.75 345.49L396 347.5L393.48 340.79L392.14 342.47A28.34 28.34 0 0 0 356.96 342.47Z"/>
<path class="g" d="M381.6 371.2L388.2 371.2L388.2 352.6L387 351.4L361.6 351.4L360.4 352.6L360.4 371.2L367.5 371.2"/>
<path class="g" d="M360.4 354.4L388.2 354.4"/>
<path class="g" d="M367.5 373.8L367.5 370.4L369 368L369 366.2L367 364.4L367 362.2L369.4 360L379.6 360L382 362.2L382 364.4L380 366.2L380 368L381.6 370.4L381.6 373.8Z"/>
<path class="gk" d="M366 370L367.6 367.8L367.4 366.4L365 364.6L365 361.6L368.6 358.4L380.4 358.4L384 361.6L384 364.6L381.6 366.4L381.4 367.8L383 370"/>
<circle class="gf" cx="365.2" cy="369.2" r="1.7"/>
<circle class="gf" cx="383.8" cy="369.2" r="1.7"/>
<circle class="gf" cx="374.5" cy="356.8" r="2.1"/>
<path class="g" d="M370.6 356.8L378.8 356.8"/>
<path class="g" d="M374.5 353L374.5 373.8"/>
</g>
<g id="mp">
<path class="g" d="M445.12 339.97L442.9 346.8L449.04 344.51L447.64 342.88A25.66 25.66 0 0 1 481.16 342.88L479.76 344.51L485.9 346.8L483.68 339.97L482.28 341.6A27.36 27.36 0 0 0 446.52 341.6Z"/>
<rect x="418.2" y="360" width="92.1" height="4.8" fill="#8a8482"/>
<rect class="g" x="418.2" y="360" width="92.1" height="12.2"/>
<path class="g" d="M418.2 364.8L510.3 364.8"/>
<path class="g2" d="M418.2 367L510.3 367"/>
<path class="g" d="M418.2 369.8L510.3 369.8"/>
<rect class="g" x="435.3" y="352" width="58.4" height="17.3" style="fill:#fff"/>
<path class="g" d="M438.2 352L438.2 369.3"/>
<path class="g" d="M442.2 352L442.2 369.3"/>
<path class="g" d="M487 352L487 369.3"/>
<path class="g" d="M491 352L491 369.3"/>
</g>
<g id="my">
<path class="m" d="M562.25 338.44L560.1 345.3L566.21 342.95L564.79 341.33A25.23 25.23 0 0 1 598.11 341.33L596.69 342.95L602.8 345.3L600.65 338.44L599.23 340.06A26.93 26.93 0 0 0 563.67 340.06Z"/>
<rect class="k" x="533.7" y="358" width="94.8" height="13.2"/>
<rect class="k" x="552" y="351.2" width="58.1" height="25.4" style="fill:#fff"/>
<path class="m" d="M559.4 351.2L559.4 376.6"/>
<path class="m" d="M603.5 351.2L603.5 376.6"/>
<path class="n" d="M608.6 351.2L608.6 376.6"/>
<path class="c13" d="M559.4 360.4L603.5 360.4"/>
<path class="c13" d="M559.4 368.5L603.5 368.5"/>
<path class="k" d="M533.7 358L552 358"/>
<path class="c" d="M536 364.4L626 364.4"/>
<circle cx="541.5" cy="364.4" r="2" fill="#4a4442" stroke="#1c1614" stroke-width="1.2"/>
<circle cx="620.4" cy="364.4" r="2" fill="#4a4442" stroke="#1c1614" stroke-width="1.2"/>
<path class="d" d="M563.5 353L563.5 375"/>
<path class="c13" d="M561.2 355L565.8 355"/>
<path class="c13" d="M563.5 352.7L563.5 357.3"/>
<path class="c13" d="M561.2 373.3L565.8 373.3"/>
<path class="c13" d="M563.5 371L563.5 375.6"/>
<path class="d" d="M599.1 353L599.1 375"/>
<path class="c13" d="M596.8 355L601.4 355"/>
<path class="c13" d="M599.1 352.7L599.1 357.3"/>
<path class="c13" d="M596.8 373.3L601.4 373.3"/>
<path class="c13" d="M599.1 371L599.1 375.6"/>
</g>
</svg>
<span class="lb ttl" style="left:145.3px;top:50.8px;font-size:15.8px;transform:translate(-50%,-50%) scaleX(0.92)">(2)<span style="margin-left:7px">HGL-CA / HGL-HA</span></span>
<span class="lb " style="left:148.8px;top:166px;font-size:10.8px;transform:translate(-50%,-50%) scaleX(0.8)">W</span>
<span class="lb " style="left:113.4px;top:183.8px;font-size:10.8px;transform:translate(-50%,-50%) scaleX(0.8)">B<sub>1</sub></span>
<span class="lb " style="left:150.3px;top:184.6px;font-size:10.8px;transform:translate(-50%,-50%) scaleX(0.8)">B</span>
<span class="lb " style="left:53.6px;top:176.6px;font-size:10.8px;transform:translate(-50%,-50%) scaleX(1)">4-Mxl</span>
<span class="lb " style="left:64.6px;top:231px;font-size:11.6px;transform:translate(-50%,-50%) rotate(-90deg) scaleX(0.8)">H</span>
<span class="lb " style="left:84.6px;top:209.8px;font-size:11.6px;transform:translate(-50%,-50%) rotate(-90deg) scaleX(0.8)">T</span>
<span class="lb " style="left:92.6px;top:261.6px;font-size:11.6px;transform:translate(-50%,-50%) rotate(-90deg) scaleX(0.8)">H<sub>1</sub></span>
<span class="lb " style="left:203.4px;top:206.6px;font-size:11.6px;transform:translate(-50%,-50%) rotate(-90deg) scaleX(0.8)">H<sub>2</sub></span>
<span class="lb " style="left:118.8px;top:278.8px;font-size:10.8px;transform:translate(-50%,-50%) scaleX(0.8)">N</span>
<span class="lb " style="left:150px;top:278.8px;font-size:10.8px;transform:translate(-50%,-50%) scaleX(0.8)">W<sub>R</sub></span>
<span class="lb " style="left:291.2px;top:211.2px;font-size:10.8px;transform:translate(-50%,-50%) scaleX(0.8)">ØD</span>
<span class="lb " style="left:245.8px;top:237.2px;font-size:11.6px;transform:translate(-50%,-50%) rotate(-90deg) scaleX(0.8)">h</span>
<span class="lb " style="left:232px;top:246.4px;font-size:11.6px;transform:translate(-50%,-50%) rotate(-90deg) scaleX(0.8)">H<sub>R</sub></span>
<span class="lb " style="left:308.3px;top:275.4px;font-size:10.8px;transform:translate(-50%,-50%) scaleX(0.8)">Ød</span>
<span class="lb " style="left:276.2px;top:292.8px;font-size:10.8px;transform:translate(-50%,-50%) scaleX(0.8)">E</span>
<span class="lb " style="left:325px;top:292.8px;font-size:10.8px;transform:translate(-50%,-50%) scaleX(0.8)">P</span>
<span class="lb " style="left:379.8px;top:149.2px;font-size:10.8px;transform:translate(-50%,-50%) scaleX(0.8)">G</span>
<span class="lb " style="left:405.4px;top:166.2px;font-size:10.8px;transform:translate(-50%,-50%) scaleX(0.8)">K<sub>2</sub></span>
<span class="lb " style="left:480.2px;top:149.2px;font-size:10.8px;transform:translate(-50%,-50%) scaleX(0.8)">L</span>
<span class="lb " style="left:482px;top:166.2px;font-size:10.8px;transform:translate(-50%,-50%) scaleX(0.8)">L<sub>1</sub></span>
<span class="lb " style="left:480.2px;top:184.2px;font-size:10.8px;transform:translate(-50%,-50%) scaleX(0.8)">C</span>
<span class="lb " style="left:588px;top:209.6px;font-size:11.6px;transform:translate(-50%,-50%) rotate(-90deg) scaleX(0.8)">H<sub>3</sub></span>
<span class="lb " style="left:643.4px;top:295px;font-size:10.8px;transform:translate(-50%,-50%) scaleX(0.8)">E</span>
<span class="lb " style="left:541px;top:21.2px;font-size:10.8px;transform:translate(-50%,-50%) scaleX(0.8)">K<sub>1</sub></span>
<span class="lb gr" style="left:375.8px;top:327.8px;font-size:9px;transform:translate(-50%,-50%) scaleX(1)">M<sub>R</sub></span>
<span class="lb gr" style="left:465.7px;top:327.8px;font-size:9px;transform:translate(-50%,-50%) scaleX(1)">M<sub>P</sub></span>
<span class="lb gr" style="left:581.2px;top:327.8px;font-size:9px;transform:translate(-50%,-50%) scaleX(1)">M<sub>Y</sub></span>
<svg width="680" height="749" viewBox="0 0 680 749">
<text class="cj" x="42.2 50.2" y="449.44">型号</text>
<text class="cj" x="75.7 83.5 91.3 99.1" y="428.26">组件尺寸</text>
<text class="cj" x="201.8 210 218.2 226.4" y="433.16">滑块尺寸</text>
<text class="cj" x="369.8 378 386.2 394.4" y="433.16">导轨尺寸</text>
<text class="cj" x="451.1 459.3 467.5" y="422.36">导轨的</text>
<text class="cj" x="451.1 459.3 467.5" y="433.36">固定螺</text>
<text class="cj" x="451.1 459.3 467.5" y="444.36">栓尺寸</text>
<text class="cj" x="485.3 494.5" y="422.36">基本</text>
<text class="cj" x="485.3 494.5" y="433.36">动额</text>
<text class="cj" x="482 489.9 497.8" y="444.36">定负荷</text>
<text class="cj" x="516.4 524.4" y="422.36">基本</text>
<text class="cj" x="516.4 524.4" y="433.36">静额</text>
<text class="cj" x="512.5 520.4 528.3" y="444.36">定负荷</text>
<text class="cj" x="555.3 563.3 571.3 579.3 587.3" y="427.46">容许静力矩</text>
<text class="cj" x="625.1 633.7" y="427.46">重量</text>
<text class="cj" x="614.85 623.05" y="456.26">滑块</text>
<text class="cj" x="636.45 644.65" y="456.26">导轨</text>
<text x="30.8" y="730.45" font-family="Liberation Sans,Noto Sans CJK SC,sans-serif" font-size="10" fill="#2a2a2a">注</text>
<g transform="rotate(-19 412.8 305)" opacity="0.3"><text class="wm" x="386.1 396.8 407.5 418.2 428.9" y="309.03">雅威达传动</text></g>
<g transform="translate(412.8 305) rotate(-19)" opacity="0.3" fill="none" stroke="#a8a8a8"><path stroke-width=".9" d="M-47.5 -7.5h19v19h-19zM-47 -7l9 9l9 -9"/><path stroke-width="2.3" d="M-44.8 11v-10l6.8 7l6.8 -7v10"/><text x="-23" y="10.4" font-family="Liberation Sans,sans-serif" font-size="4.4" letter-spacing=".55" fill="#a8a8a8" stroke="none">YAVIDIA MOTION</text></g>
<g transform="rotate(-19 246.2 311.2)" opacity="0.3"><text class="wm" x="219.5 230.2 240.9 251.6 262.3" y="315.23">雅威达传动</text></g>
<g transform="translate(246.2 311.2) rotate(-19)" opacity="0.3" fill="none" stroke="#a8a8a8"><path stroke-width=".9" d="M-47.5 -7.5h19v19h-19zM-47 -7l9 9l9 -9"/><path stroke-width="2.3" d="M-44.8 11v-10l6.8 7l6.8 -7v10"/><text x="-23" y="10.4" font-family="Liberation Sans,sans-serif" font-size="4.4" letter-spacing=".55" fill="#a8a8a8" stroke="none">YAVIDIA MOTION</text></g>
<g transform="rotate(-19 268 418.6)" opacity="0.36"><text class="wm" x="241.3 252 262.7 273.4 284.1" y="422.63">雅威达传动</text></g>
<g transform="translate(268 418.6) rotate(-19)" opacity="0.36" fill="none" stroke="#a8a8a8"><path stroke-width=".9" d="M-47.5 -7.5h19v19h-19zM-47 -7l9 9l9 -9"/><path stroke-width="2.3" d="M-44.8 11v-10l6.8 7l6.8 -7v10"/><text x="-23" y="10.4" font-family="Liberation Sans,sans-serif" font-size="4.4" letter-spacing=".55" fill="#a8a8a8" stroke="none">YAVIDIA MOTION</text></g>
<g transform="rotate(-19 421.6 418.4)" opacity="0.36"><text class="wm" x="394.9 405.6 416.3 427 437.7" y="422.43">雅威达传动</text></g>
<g transform="translate(421.6 418.4) rotate(-19)" opacity="0.36" fill="none" stroke="#a8a8a8"><path stroke-width=".9" d="M-47.5 -7.5h19v19h-19zM-47 -7l9 9l9 -9"/><path stroke-width="2.3" d="M-44.8 11v-10l6.8 7l6.8 -7v10"/><text x="-23" y="10.4" font-family="Liberation Sans,sans-serif" font-size="4.4" letter-spacing=".55" fill="#a8a8a8" stroke="none">YAVIDIA MOTION</text></g>
</svg>
<div class="ov"></div>
<span class="zh" style="left:42.2px;top:442.4px;font-size:8px">型号</span>
<span class="zh" style="left:75.7px;top:421.4px;font-size:7.8px">组件尺寸</span>
<span class="zh" style="left:201.8px;top:426.3px;font-size:7.8px">滑块尺寸</span>
<span class="zh" style="left:369.8px;top:426.3px;font-size:7.8px">导轨尺寸</span>
<span class="zh" style="left:451.1px;top:415.5px;font-size:7.8px">导轨的</span>
<span class="zh" style="left:451.1px;top:426.5px;font-size:7.8px">固定螺</span>
<span class="zh" style="left:451.1px;top:437.5px;font-size:7.8px">栓尺寸</span>
<span class="zh" style="left:485.3px;top:415.5px;font-size:7.8px">基本</span>
<span class="zh" style="left:485.3px;top:426.5px;font-size:7.8px">动额</span>
<span class="zh" style="left:482px;top:437.5px;font-size:7.8px">定负荷</span>
<span class="zh" style="left:516.4px;top:415.5px;font-size:7.8px">基本</span>
<span class="zh" style="left:516.4px;top:426.5px;font-size:7.8px">静额</span>
<span class="zh" style="left:512.5px;top:437.5px;font-size:7.8px">定负荷</span>
<span class="zh" style="left:555.3px;top:420.6px;font-size:7.8px">容许静力矩</span>
<span class="zh" style="left:625.1px;top:420.6px;font-size:7.8px">重量</span>
<span class="zh" style="left:614.85px;top:449.4px;font-size:7.8px">滑块</span>
<span class="zh" style="left:636.45px;top:449.4px;font-size:7.8px">导轨</span>
<span class="zh" style="left:30.8px;top:722px;font-size:9.6px">注</span>
<span class="zh" style="left:386.1px;top:299.7px;font-size:10.6px">雅威达传动</span>
<span class="zh" style="left:219.5px;top:305.9px;font-size:10.6px">雅威达传动</span>
<span class="zh" style="left:241.3px;top:413.3px;font-size:10.6px">雅威达传动</span>
<span class="zh" style="left:394.9px;top:413.1px;font-size:10.6px">雅威达传动</span>
</body></html>
